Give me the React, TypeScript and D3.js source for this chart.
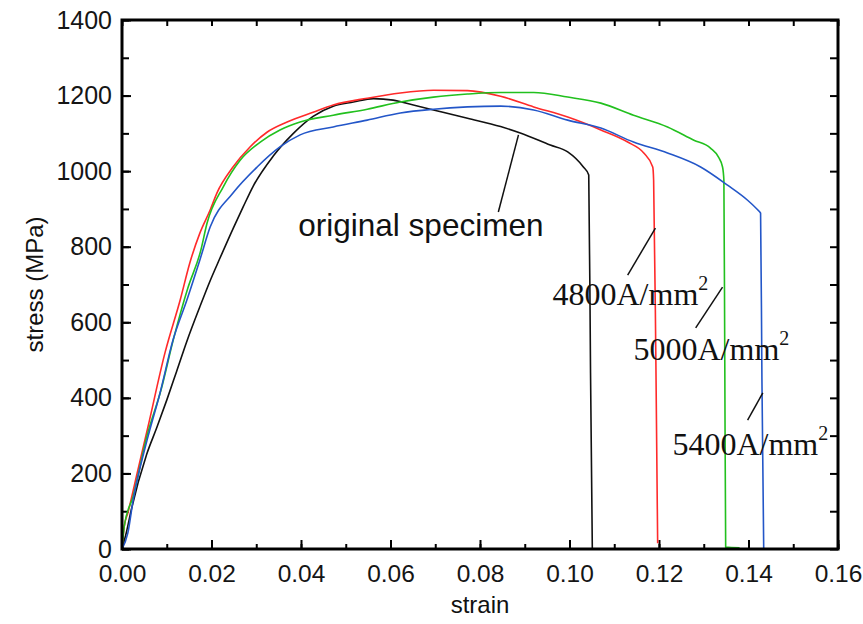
import { useEffect, useRef } from 'react';
import * as d3 from 'd3';

// original specimen
const strainOriginal = [0, 0.001, 0.002, 0.0055, 0.0078, 0.01, 0.0122, 0.0145, 0.0174, 0.0197, 0.0219, 0.0249, 0.0271, 0.0293, 0.0338, 0.0383, 0.0427, 0.0472, 0.0517, 0.0562, 0.0606, 0.0651, 0.0696, 0.0772, 0.0846, 0.089, 0.0957, 0.0996, 0.1031, 0.1043, 0.1047, 0.1051];
const stressOriginal = [0, 45, 100, 250, 322, 394, 470, 550, 641, 710, 770, 850, 906, 960, 1040, 1100, 1145, 1172, 1183, 1192, 1188, 1175, 1162, 1140, 1118, 1101, 1069, 1051, 1011, 990, 466, 0];

// 4800A/mm2
const strain4800 = [0, 0.0005, 0.0013, 0.0034, 0.0058, 0.0096, 0.013, 0.0152, 0.0174, 0.0197, 0.0212, 0.0248, 0.0286, 0.0324, 0.0369, 0.0427, 0.0472, 0.0548, 0.0622, 0.0696, 0.0772, 0.0846, 0.092, 0.0996, 0.107, 0.113, 0.1166, 0.1186, 0.1188, 0.1193, 0.1197];
const stress4800 = [0, 60, 95, 201, 323, 519, 659, 759, 836, 897, 942, 1011, 1064, 1103, 1130, 1156, 1175, 1193, 1207, 1214, 1213, 1198, 1170, 1143, 1109, 1077, 1048, 1011, 976, 500, 15];

// 5000A/mm2
const strain5000 = [0, 0.0005, 0.0025, 0.0056, 0.0087, 0.0116, 0.0147, 0.0176, 0.019, 0.0226, 0.0264, 0.0309, 0.0353, 0.0398, 0.0472, 0.0548, 0.0622, 0.0696, 0.0772, 0.0846, 0.092, 0.0996, 0.107, 0.1143, 0.1219, 0.1278, 0.1315, 0.1333, 0.1342, 0.1345, 0.1347, 0.1349, 0.138];
const stress5000 = [0, 60, 140, 300, 420, 560, 690, 790, 862, 958, 1029, 1077, 1109, 1130, 1148, 1164, 1183, 1196, 1204, 1208, 1208, 1196, 1180, 1148, 1117, 1082, 1061, 1037, 1011, 976, 500, 5, 3];

// 5400A/mm2
const strain5400 = [0, 0.0013, 0.0025, 0.0056, 0.0085, 0.0114, 0.0145, 0.0174, 0.0197, 0.0248, 0.0302, 0.0353, 0.0398, 0.0472, 0.0548, 0.0622, 0.0696, 0.0772, 0.0846, 0.092, 0.0996, 0.107, 0.1143, 0.1219, 0.1293, 0.1353, 0.1398, 0.1421, 0.1427, 0.143, 0.1434];
const stress5400 = [0, 42, 130, 288, 413, 553, 659, 765, 852, 942, 1011, 1064, 1096, 1117, 1135, 1154, 1164, 1170, 1172, 1162, 1135, 1114, 1077, 1048, 1011, 963, 923, 897, 889, 450, 0];

const xTicks = [0, 0.02, 0.04, 0.06, 0.08, 0.1, 0.12, 0.14, 0.16];
const yTicks = [0, 200, 400, 600, 800, 1000, 1200, 1400];

export default function App() {
  const svgRef = useRef(null);

  useEffect(() => {
    const width = 863;
    const height = 624;
    const margin = { top: 20, right: 25, bottom: 75, left: 122 };
    const innerWidth = width - margin.left - margin.right;
    const innerHeight = height - margin.top - margin.bottom;

    d3.select(svgRef.current).selectAll('*').remove();

    const svg = d3.select(svgRef.current)
      .attr('width', width)
      .attr('height', height);

    const g = svg.append('g')
      .attr('transform', `translate(${margin.left},${margin.top})`);

    const x = d3.scaleLinear().domain([0, 0.16]).range([0, innerWidth]);
    const y = d3.scaleLinear().domain([0, 1400]).range([innerHeight, 0]);

    const xMinor = d3.range(0, 0.1601, 0.01);
    const yMinor = d3.range(0, 1401, 100);
    const font = '"Liberation Sans", Arial, sans-serif';
    const serif = '"Liberation Serif", "Times New Roman", serif';

    // ticks (inward on all sides)
    const addAxis = (axis, transform) => {
      const a = g.append('g').attr('transform', transform).call(axis);
      a.select('.domain').remove();
      a.selectAll('line').attr('stroke', '#000').attr('stroke-width', 2);
      return a;
    };

    addAxis(d3.axisBottom(x).tickValues(xMinor).tickSize(-5).tickFormat(() => ''), `translate(0,${innerHeight})`);
    const xAx = addAxis(d3.axisBottom(x).tickValues(xTicks).tickSize(-9).tickPadding(16).tickFormat(d3.format('.2f')), `translate(0,${innerHeight})`);
    xAx.selectAll('text').attr('font-family', font).attr('font-size', 24.5).attr('fill', '#151515');

    addAxis(d3.axisTop(x).tickValues(xMinor).tickSize(-6).tickFormat(() => ''), 'translate(0,0)');

    addAxis(d3.axisLeft(y).tickValues(yMinor).tickSize(-7).tickFormat(() => ''), 'translate(0,0)');
    const yAx = addAxis(d3.axisLeft(y).tickValues(yTicks).tickSize(-9).tickPadding(10).tickFormat(d3.format('d')), 'translate(0,0)');
    yAx.selectAll('text').attr('font-family', font).attr('font-size', 25).attr('fill', '#151515');

    addAxis(d3.axisRight(y).tickValues(yMinor).tickSize(-8).tickFormat(() => ''), `translate(${innerWidth},0)`);

    // curves
    const series = [
      { xs: strainOriginal, ys: stressOriginal, color: '#111111' },
      { xs: strain4800, ys: stress4800, color: '#ff2a2a' },
      { xs: strain5000, ys: stress5000, color: '#22c01e' },
      { xs: strain5400, ys: stress5400, color: '#2356c8' },
    ];

    const line = d3.line()
      .x(d => x(d[0]))
      .y(d => y(d[1]))
      .curve(d3.curveMonotoneX);

    series.forEach(s => {
      g.append('path')
        .datum(s.xs.map((v, i) => [v, s.ys[i]]))
        .attr('fill', 'none')
        .attr('stroke', s.color)
        .attr('stroke-width', 1.6)
        .attr('d', line);
    });

    // frame
    g.append('rect')
      .attr('x', 0)
      .attr('y', 0)
      .attr('width', innerWidth)
      .attr('height', innerHeight)
      .attr('fill', 'none')
      .attr('stroke', '#000')
      .attr('stroke-width', 3);

    // annotations
    const leaders = [
      [[0.0886, 1096], [0.0841, 892]],
      [[0.1192, 849], [0.113, 725]],
      [[0.1342, 693], [0.1282, 585]],
      [[0.1432, 413], [0.1398, 341]],
    ];
    leaders.forEach(([a, b]) => {
      g.append('line')
        .attr('x1', x(a[0])).attr('y1', y(a[1]))
        .attr('x2', x(b[0])).attr('y2', y(b[1]))
        .attr('stroke', '#111')
        .attr('stroke-width', 1.5);
    });

    g.append('text')
      .attr('x', x(0.0394))
      .attr('y', y(828))
      .attr('font-family', font)
      .attr('font-size', 31.5)
      .attr('fill', '#111')
      .text('original specimen');

    const currentLabels = [
      { text: '4800A/mm', sx: 0.0962, sy: 646 },
      { text: '5000A/mm', sx: 0.1143, sy: 500 },
      { text: '5400A/mm', sx: 0.123, sy: 249 },
    ];
    currentLabels.forEach(l => {
      const t = g.append('text')
        .attr('x', x(l.sx))
        .attr('y', y(l.sy))
        .attr('font-family', serif)
        .attr('font-size', 32)
        .attr('fill', '#111');
      t.append('tspan').text(l.text);
      t.append('tspan')
        .attr('font-size', 20)
        .attr('dx', 0)
        .attr('dy', -15)
        .text('2');
    });

    // axis titles
    svg.append('text')
      .attr('x', margin.left + innerWidth / 2)
      .attr('y', 613)
      .attr('text-anchor', 'middle')
      .attr('font-family', font)
      .attr('font-size', 24)
      .attr('fill', '#111')
      .text('strain');

    svg.append('text')
      .attr('transform', `translate(43,${margin.top + innerHeight / 2}) rotate(-90)`)
      .attr('text-anchor', 'middle')
      .attr('font-family', font)
      .attr('font-size', 24)
      .attr('fill', '#111')
      .text('stress (MPa)');
  }, []);

  return (
    <svg
      ref={svgRef}
      style={{ position: 'absolute', left: 0, top: 0, background: '#fff' }}
    ></svg>
  );
}
